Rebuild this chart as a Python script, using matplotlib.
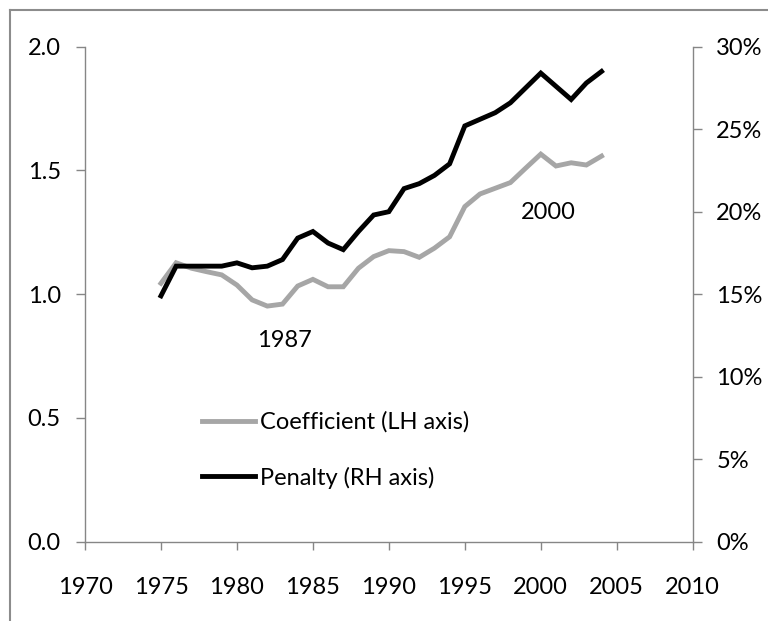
import matplotlib
matplotlib.use("Agg")
from matplotlib import pyplot as plt
from matplotlib.lines import Line2D

plt.rcParams['font.family'] = ['Lato', 'DejaVu Sans']

years = list(range(1975, 2005))
coefficient = [1.044, 1.127, 1.105, 1.091, 1.078, 1.037, 0.977, 0.952, 0.960, 1.033,
               1.060, 1.030, 1.030, 1.105, 1.152, 1.176, 1.172, 1.149, 1.186, 1.232,
               1.354, 1.405, 1.428, 1.451, 1.509, 1.566, 1.518, 1.531, 1.522, 1.558]
penalty = [14.9, 16.7, 16.7, 16.7, 16.7, 16.9, 16.6, 16.7, 17.1, 18.4,
           18.8, 18.1, 17.7, 18.8, 19.8, 20.0, 21.4, 21.7, 22.2, 22.9,
           25.2, 25.6, 26.0, 26.6, 27.5, 28.4, 27.6, 26.8, 27.8, 28.5]

x_ticks = list(range(1970, 2011, 5))
left_ticks = [0.0, 0.5, 1.0, 1.5, 2.0]
right_ticks = [0, 5, 10, 15, 20, 25, 30]

axis_grey = '#868686'
fs = 17

fig = plt.figure(figsize=(7.68, 6.21), dpi=100)
ax1 = fig.add_axes([85 / 768, 1 - 541.7 / 621, 607.7 / 768, 495 / 621])
ax2 = ax1.twinx()

l1, = ax1.plot(years, coefficient, color='#a6a6a6', lw=3.5, solid_joinstyle='miter',
               label='Coefficient (LH axis)')
l2, = ax2.plot(years, penalty, color='black', lw=3.5, solid_joinstyle='miter',
               label='Penalty (RH axis)')

ax1.set_xlim(1970, 2010)
ax1.set_ylim(0, 2.0)
ax2.set_ylim(0, 30)
ax1.set_xticks(x_ticks)
ax1.set_yticks(left_ticks)
ax1.set_yticklabels([f"{v:.1f}" for v in left_ticks])
ax2.set_yticks(right_ticks)
ax2.set_yticklabels([f"{v}%" for v in right_ticks])

for ax in (ax1, ax2):
    ax.spines['top'].set_visible(False)
    for s in ('left', 'right', 'bottom'):
        ax.spines[s].set_color(axis_grey)
        ax.spines[s].set_linewidth(1.0)
ax1.spines['right'].set_visible(False)
ax2.spines['left'].set_visible(False)
ax2.spines['bottom'].set_visible(False)

ax1.tick_params(axis='x', direction='out', length=5.5, width=1, color=axis_grey,
                labelsize=fs, pad=20)
ax1.tick_params(axis='y', direction='out', length=6.5, width=1, color=axis_grey,
                labelsize=fs, pad=11)
ax2.tick_params(axis='y', direction='out', length=6.5, width=1, color=axis_grey,
                labelsize=fs, pad=10.5)

ax1.text(1983.1, 0.813, '1987', fontsize=fs, ha='center', va='center')
ax1.text(2000.5, 1.332, '2000', fontsize=fs, ha='center', va='center')

ax2.legend(handles=[l1, l2], loc='center left', bbox_to_anchor=(0.192, 0.185),
           frameon=False, fontsize=fs, borderpad=0, borderaxespad=0,
           handlelength=2.25, handletextpad=0.22, labelspacing=1.42)

# chart frame (only the top and left edges are inside the picture)
fig.add_artist(Line2D([10 / 768, 10 / 768], [0, 1 - 10 / 621], transform=fig.transFigure,
                      color='#8c8c8c', lw=1.5))
fig.add_artist(Line2D([10 / 768, 1], [1 - 10 / 621, 1 - 10 / 621], transform=fig.transFigure,
                      color='#8c8c8c', lw=1.5))

fig.savefig('out.png', dpi=100)
